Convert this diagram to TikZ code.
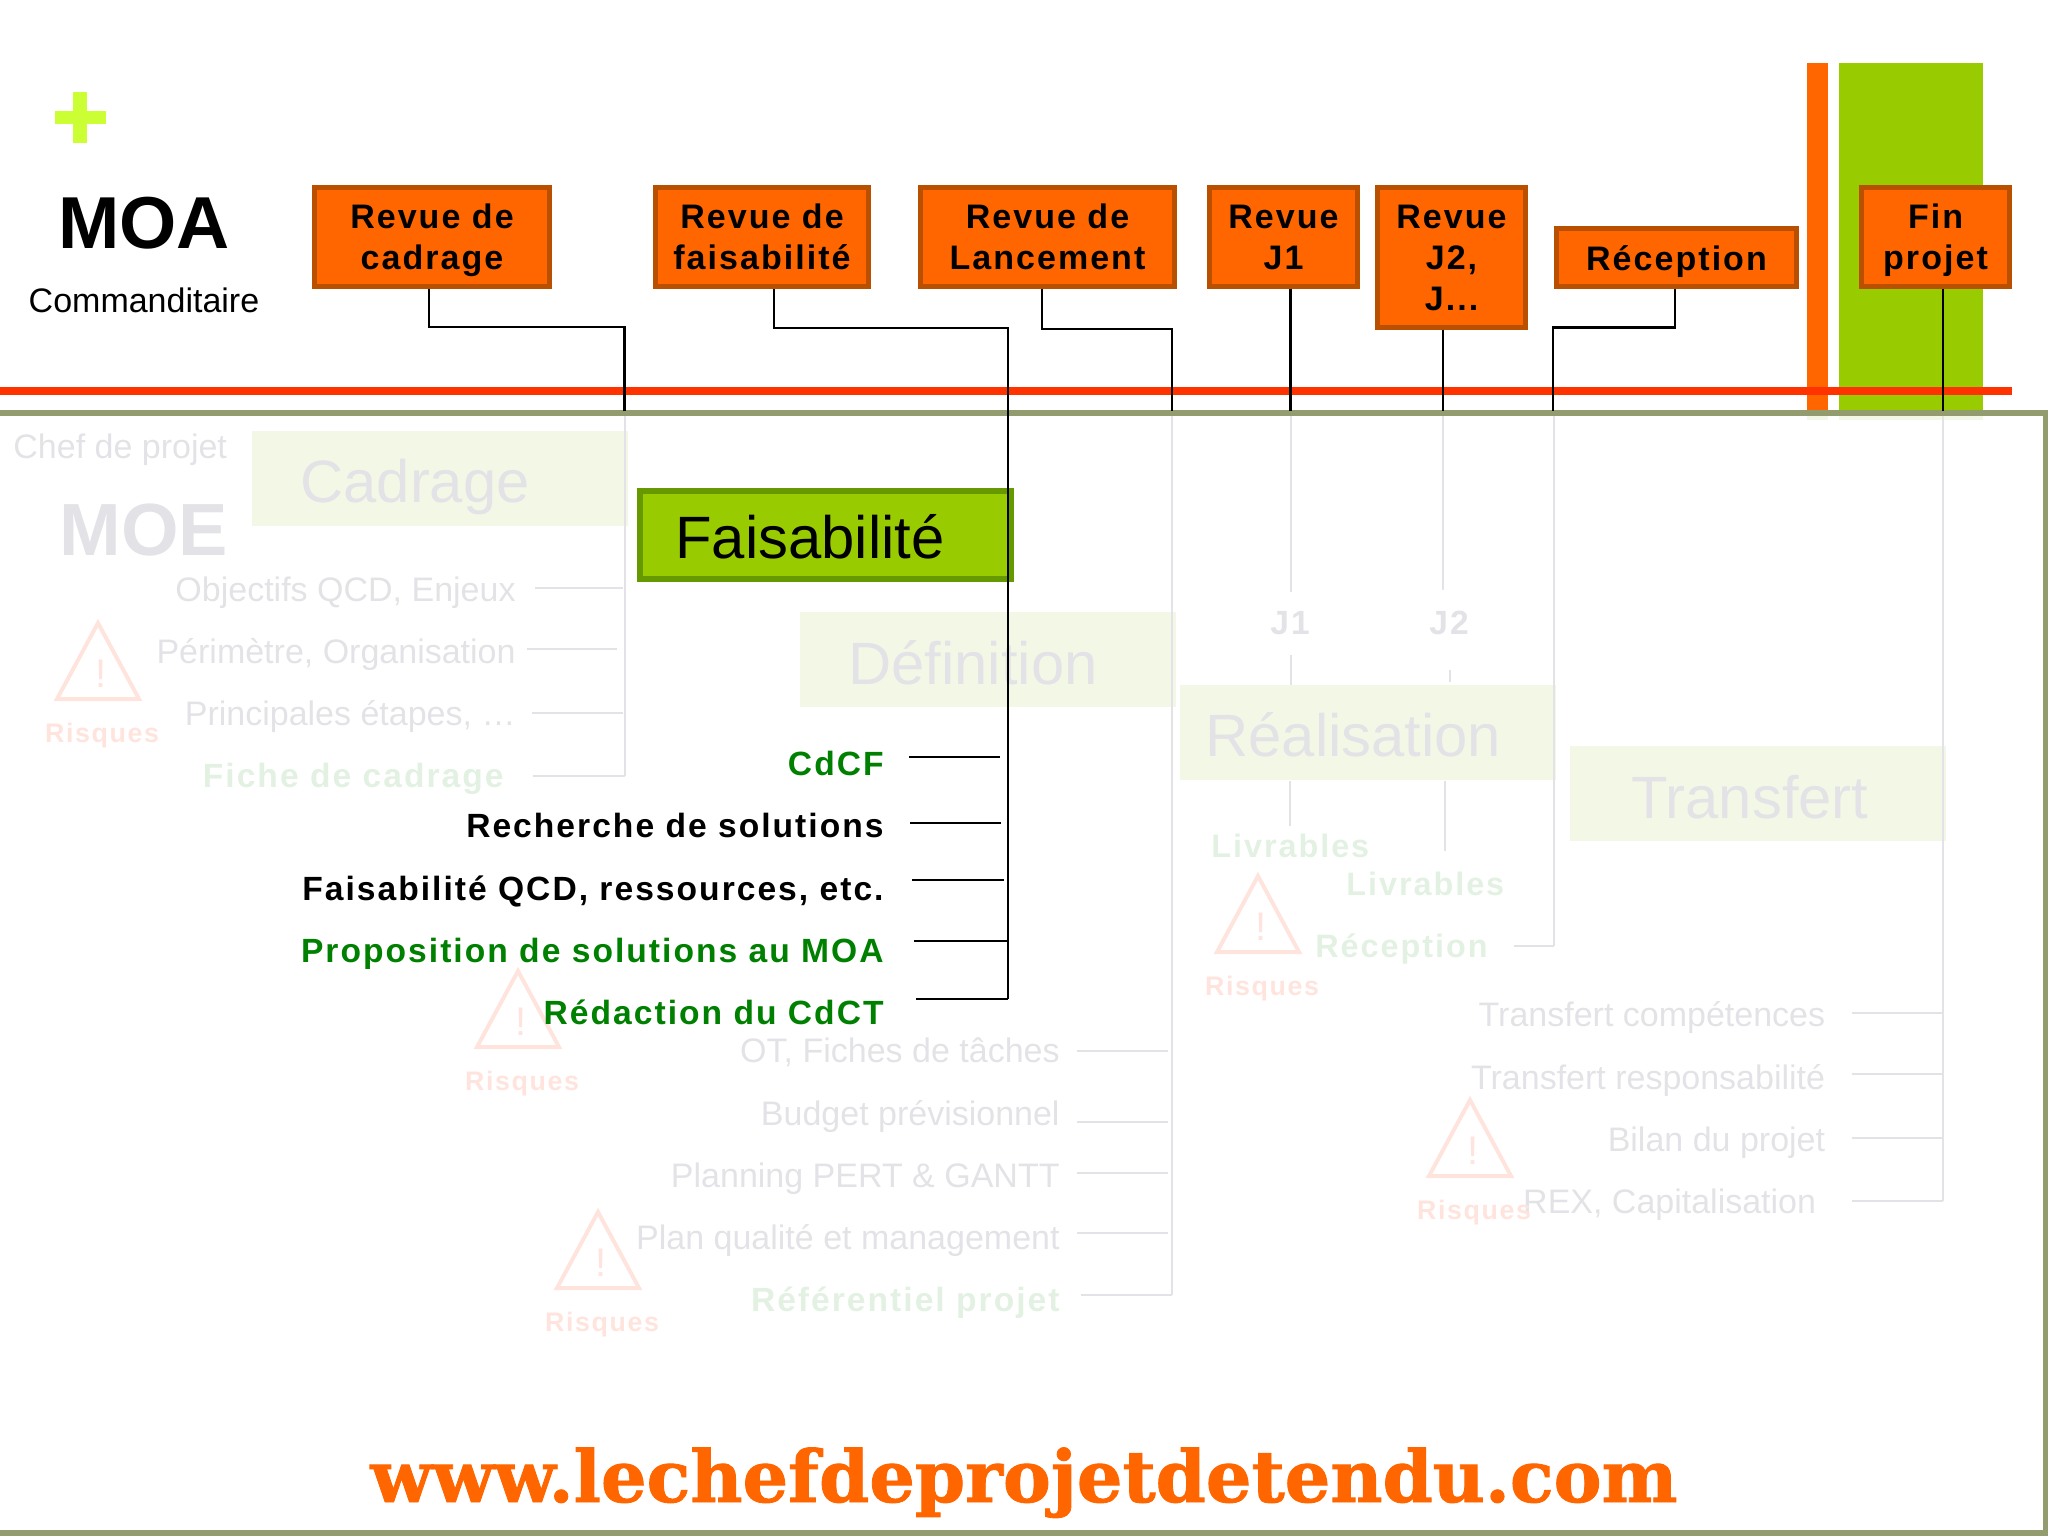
\documentclass[tikz,border=0pt]{standalone}
\usepackage{fontspec}
\setmainfont{Liberation Sans}
\newfontfamily\spacedfont[LetterSpace=6]{Liberation Sans}
\newfontfamily\footfont{DejaVu Serif}[BoldFeatures={FakeBold=1.2}]
\usepackage{xcolor}
\usetikzlibrary{positioning}
\definecolor{revfill}{HTML}{FF6600}
\definecolor{revedge}{HTML}{B85000}
\definecolor{axiscol}{HTML}{FF3300}
\definecolor{pluscol}{HTML}{CCFF33}
\definecolor{phasefill}{HTML}{99CC00}
\definecolor{phaseedge}{HTML}{669900}
\definecolor{fadefill}{HTML}{F3F8E6}
\definecolor{fadetext}{HTML}{E3E3E7}
\definecolor{fadegreen}{HTML}{E3F1E3}
\definecolor{faderisk}{HTML}{FFE4DE}
\definecolor{framecol}{HTML}{939C6E}
\definecolor{itemgreen}{HTML}{008000}
\newcommand{\revstrut}{\rule[-4pt]{0pt}{20.5pt}}

\begin{document}
\begin{tikzpicture}[
  x=0.5pt, y=-0.5pt,
  review/.style={draw=revedge, fill=revfill, line width=2.5pt, align=center, inner sep=0pt,
    font=\spacedfont\bfseries\fontsize{17}{20.5}\selectfont},
  phase/.style={draw=none, fill=fadefill, inner sep=0pt, minimum width=188pt, minimum height=47.5pt, anchor=north west},
  phasename/.style={anchor=base west, inner sep=0pt, text=fadetext, font=\fontsize{29.9}{32}\selectfont},
  item/.style={anchor=base east, inner sep=0pt, font=\spacedfont\bfseries\fontsize{16.8}{18}\selectfont},
  fadeitem/.style={anchor=base east, inner sep=0pt, text=fadetext, font=\fontsize{17}{20}\selectfont},
  fadedeliv/.style={item, text=fadegreen},
  shortdeliv/.style={fadedeliv, anchor=base west, font=\spacedfont\bfseries\fontsize{16.2}{18}\selectfont},
  link/.style={draw=black, line width=1.1pt},
  fadelink/.style={draw=fadetext, line width=1pt}
]
\useasboundingbox (0,0) rectangle (2048,1536);

% milestone bars
\fill[fadefill] (1807,411) rectangle (1828,420);
\fill[fadefill] (1839,411) rectangle (1983,420);
\fill[revfill] (1807,63) rectangle (1828,411);
\fill[phasefill] (1839,63) rectangle (1983,411);
\draw[draw=axiscol, line width=4pt] (0,391) coordinate (axisstart) -- (2012,391) coordinate (axisend);

\fill[pluscol] (73,92) rectangle (87,143);
\fill[pluscol] (55,111) rectangle (106,124);

\node[font=\bfseries\fontsize{36.8}{40}\selectfont, inner sep=0pt, anchor=base] (moa) at (144,248) {MOA};
\node[font=\fontsize{17}{20}\selectfont, inner sep=0pt, anchor=base] (commanditaire) at (144,312) {Commanditaire};

% faded phases
\node[fadeitem, anchor=base west] (chef) at (13,458) {Chef de projet};
\node[text=fadetext, font=\bfseries\fontsize{37}{40}\selectfont, inner sep=0pt, anchor=base] (moe) at (144,555) {MOE};

\node[phase] (cadrage) at (251.5,431) {};
\node[phasename] (cadragename) at (300,502) {Cadrage};
\node[phase] (definition) at (800,612) {};
\node[phasename] (definitionname) at (848,684) {Définition};
\node[phase] (realisation) at (1180,685) {};
\node[phasename] (realisationname) at (1205,756) {Réalisation};
\node[phase] (transfert) at (1570,746) {};
\node[phasename] (transfertname) at (1631,818) {Transfert};

\coordinate (cadend) at (624.5,776);
\coordinate (defend) at (1172,1295);
\coordinate (recend) at (1553.5,946);
\coordinate (finend) at (1943,1201);

\node[fadeitem] (objectifs) at (516,601) {Objectifs QCD, Enjeux};
\node[fadeitem] (perimetre) at (516,663) {Périmètre, Organisation};
\node[fadeitem] (etapes) at (516,725) {Principales étapes, …};
\node[fadedeliv] (fiche) at (504,787) {Fiche de cadrage};
\draw[fadelink] (624.5,416) -- (cadend);
\draw[fadelink] ([shift={(19,-13)}]objectifs.base east) -- ++(88,0);
\draw[fadelink] ([shift={(11,-14)}]perimetre.base east) -- ++(90,0);
\draw[fadelink] ([shift={(16,-12)}]etapes.base east) -- ++(91,0);
\draw[fadelink] ([shift={(29,-11)}]fiche.base east) -| (cadend);

\node[fadeitem] (ot) at (1060,1062) {OT, Fiches de tâches};
\node[fadeitem] (budget) at (1060,1125) {Budget prévisionnel};
\node[fadeitem] (planning) at (1060,1187) {Planning PERT \& GANTT};
\node[fadeitem] (qualite) at (1060,1249) {Plan qualité et management};
\node[fadedeliv] (referentiel) at (1060,1311) {Référentiel projet};
\draw[fadelink] (1172,416) -- (defend);
\draw[fadelink] ([shift={(17,-11)}]ot.base east) -- ++(91,0);
\draw[fadelink] ([shift={(17,-3)}]budget.base east) -- ++(91,0);
\draw[fadelink] ([shift={(17,-14)}]planning.base east) -- ++(91,0);
\draw[fadelink] ([shift={(17,-16)}]qualite.base east) -- ++(91,0);
\draw[fadelink] ([shift={(21,-16)}]referentiel.base east) -| (defend);

\node[fadedeliv, text=fadetext, anchor=base] (jone) at (1290,634) {J1};
\node[fadedeliv, text=fadetext, anchor=base] (jtwo) at (1449,634) {J2};
\draw[fadelink] (1290.5,416) -- (1290.5,592);
\draw[fadelink] (1290.5,655) -- (realisation.north -| 1290.5,0);
\draw[fadelink] (1443,416) -- (1443,590);
\draw[fadelink] (1450,670) -- (1450,682);

\node[shortdeliv] (livone) at (1211,857) {Livrables};
\node[shortdeliv] (livtwo) at (1346,895) {Livrables};
\node[shortdeliv] (receptionitem) at (1315,957) {Réception};
\draw[fadelink] (realisation.south -| 1290,0) -- (1290,826);
\draw[fadelink] (realisation.south -| 1444.6,0) -- (1444.6,851);
\draw[fadelink] (1553.5,416) -- (recend);
\draw[fadelink] ([xshift=13pt]receptionitem.east |- recend) -- (recend);

\node[fadeitem] (competences) at (1825.5,1026) {Transfert compétences};
\node[fadeitem] (responsabilite) at (1825.5,1089) {Transfert responsabilité};
\node[fadeitem] (bilan) at (1825.5,1151) {Bilan du projet};
\node[fadeitem] (rex) at (1816.5,1213) {REX, Capitalisation};
\draw[fadelink] (finend |- 0,416) -- (finend);
\draw[fadelink] ([shift={(26,-13)}]competences.base east) -- ++(91,0);
\draw[fadelink] ([shift={(26,-15)}]responsabilite.base east) -- ++(91,0);
\draw[fadelink] ([shift={(26,-13)}]bilan.base east) -- ++(91,0);
\draw[fadelink] ([shift={(35,-12)}]rex.base east) -| (finend);

% risk signs
\foreach \ax/\ay [count=\r] in {98/623, 518/971, 598/1212, 1258/876, 1470/1100} {
  \draw[draw=faderisk, line width=2pt, line join=miter] (\ax,\ay) -- ++(41,76) -- ++(-82,0) -- cycle;
  \node[text=faderisk, inner sep=0pt, font=\fontsize{20}{22}\selectfont, anchor=base] (mark\r) at (\ax+3,\ay+64) {!};
  \node[text=faderisk, inner sep=0pt, font=\spacedfont\bfseries\fontsize{13.4}{15}\selectfont, anchor=base] (risk\r) at (\ax+4,\ay+119) {Risques};
}

% frame
\draw[draw=framecol, line width=3pt] (-5,413) -- (2046,413) -- (2046,1533) -- (-5,1533);

% reviews
\node[review, minimum width=117.5pt, minimum height=49.8pt, anchor=north west] (revcadrage) at (312,184.6) {\revstrut Revue de\\cadrage\revstrut};
\node[review, minimum width=106.5pt, minimum height=49.8pt, right=50.5pt of revcadrage.north east, anchor=north west] (revfaisa) {\revstrut Revue de\\faisabilité\revstrut};
\node[review, minimum width=127pt, minimum height=49.8pt, right=23.5pt of revfaisa.north east, anchor=north west] (revlance) {\revstrut Revue de\\Lancement\revstrut};
\node[review, minimum width=74pt, minimum height=49.8pt, right=15pt of revlance.north east, anchor=north west] (revjone) {\revstrut Revue\\J1\revstrut};
\node[review, minimum width=74pt, minimum height=70.2pt, right=7.5pt of revjone.north east, anchor=north west] (revjtwo) {\revstrut Revue\\J2,\\J...\revstrut};
\node[review, minimum width=120pt, minimum height=29pt, below right=20.7pt and 13pt of revjtwo.north east, anchor=north west] (reception) {\revstrut Réception};
\node[review, minimum width=74pt, minimum height=49.8pt, above right=20.7pt and 30pt of reception.north east, anchor=north west] (revfin) {\revstrut Fin\\projet\revstrut};

\coordinate (cadjoint) at (624.5,327);
\coordinate (faijoint) at (1007.7,328);
\coordinate (faiend) at (1007.7,999);
\coordinate (lanjoint) at (1171.6,329);
\coordinate (recjoint) at (1553,327.5);

\draw[link] (revcadrage.south -| 429,0) |- (cadjoint) -- (cadjoint |- 0,411);
\draw[link] (revlance.south -| 1041.6,0) |- (lanjoint) -- (lanjoint |- 0,411);
\draw[link] (revjone.south -| 1290.5,0) -- (1290.5,411);
\draw[link] (revjtwo.south -| 1443,0) -- (1443,411);
\draw[link] (reception.south -| 1675,0) |- (recjoint) -- (recjoint |- 0,411);
\draw[link] (revfin.south -| 1943,0) -- (1943,411);

% current phase
\node[draw=phaseedge, fill=phasefill, line width=3pt, inner sep=0pt, minimum width=185.5pt, minimum height=44pt, anchor=north west] (faisabilite) at (637,488) {};
\node[phasename, text=black] (faisabilitename) at (675,558) {Faisabilité};

\node[item, text=itemgreen] (cdcf) at (884,775) {CdCF};
\node[item] (recherche) at (884,837) {Recherche de solutions};
\node[item] (ressources) at (884,900) {Faisabilité QCD, ressources, etc.};
\node[item, text=itemgreen] (proposition) at (884,962) {Proposition de solutions au MOA};
\node[item, text=itemgreen] (redaction) at (884,1024) {Rédaction du CdCT};
\draw[link] (revfaisa.south -| 774,0) |- (faijoint) -- (faiend);
\draw[link] ([shift={(25,-18)}]cdcf.base east) -- ++(91,0);
\draw[link] ([shift={(26,-14)}]recherche.base east) -- ++(91,0);
\draw[link] ([shift={(28,-20)}]ressources.base east) -- ++(92,0);
\draw[link] ([shift={(30,-21)}]proposition.base east) -- ++(93,0);
\draw[link] ([shift={(32,-25)}]redaction.base east) -- ++(92,0);

\node[text=revfill, inner sep=0pt, anchor=base, font=\footfont\bfseries\fontsize{35.9}{40}\selectfont] (site) at (1024,1502) {www.lechefdeprojetdetendu.com};
\end{tikzpicture}
\end{document}
